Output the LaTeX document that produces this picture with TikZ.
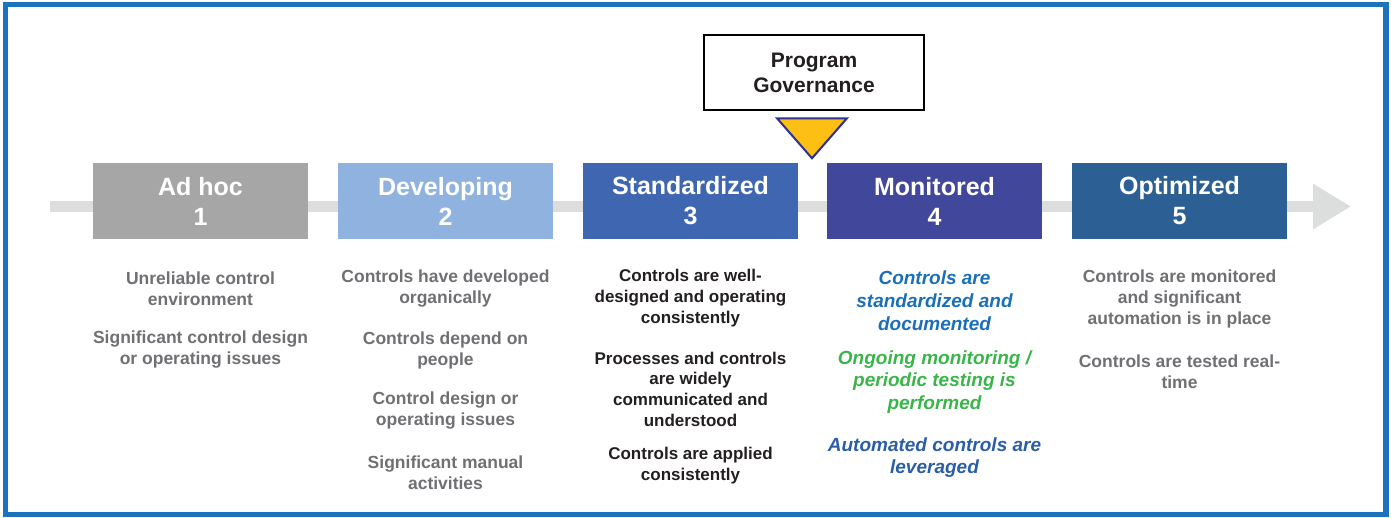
\documentclass[tikz,border=0pt]{standalone}
\usepackage{fontspec}
\setmainfont{Liberation Sans}
\usetikzlibrary{arrows.meta,calc}

\definecolor{framebl}{HTML}{1B72BE}
\definecolor{barg}{HTML}{DCDDDD}
\definecolor{lvl1}{HTML}{A6A6A6}
\definecolor{lvl2}{HTML}{8FB3DE}
\definecolor{lvl3}{HTML}{3F66B0}
\definecolor{lvl4}{HTML}{41479B}
\definecolor{lvl5}{HTML}{2C5F93}
\definecolor{txtgray}{HTML}{6F7073}
\definecolor{txtdark}{HTML}{231F20}
\definecolor{txtblue}{HTML}{1A6FB8}
\definecolor{txtgreen}{HTML}{3AB54A}
\definecolor{txtnavy}{HTML}{2B5EA6}
\definecolor{govyellow}{HTML}{FDBF14}
\definecolor{govedge}{HTML}{2E3192}

\tikzset{
  levelbox/.style={minimum width=215pt, minimum height=76pt, inner sep=0pt,
    text=white, align=center, font=\bfseries\fontsize{25}{30}\selectfont},
  desc/.style={align=center, inner sep=0pt, text=txtgray, yshift=-2pt,
    font=\bfseries\fontsize{17.5}{21}\selectfont},
  descdark/.style={desc, text=txtdark, font=\bfseries\fontsize{17}{20.7}\selectfont},
  descital/.style={desc, font=\bfseries\itshape\fontsize{19}{22.8}\selectfont},
  govbox/.style={draw=black, line width=2.5pt, fill=white, minimum width=220pt,
    minimum height=75pt, inner sep=0pt, align=center, text=txtdark,
    font=\bfseries\fontsize{21}{25}\selectfont},
}

\begin{document}
\begin{tikzpicture}[x=1pt, y=-1pt]
  \useasboundingbox (0,0) rectangle (1391,517);
  % outer frame
  \draw[framebl, line width=5.5pt] (5.5,4.5) rectangle (1386,514.5);

  % progression bar behind the levels
  \coordinate (barstart) at (50,206.5);
  \coordinate (barend) at (1351,206.5);
  \draw[barg, line width=11pt, -{Triangle[length=38pt, width=43pt]}] (barstart) -- (barend);

  % maturity levels
  \node[levelbox, fill=lvl1] (l1) at (200.5,201) {Ad hoc\\1};
  \node[levelbox, fill=lvl2] (l2) at (445.5,201) {Developing\\2};
  \node[levelbox, fill=lvl3] (l3) at (690.5,201) {Standardized\\3};
  \node[levelbox, fill=lvl4] (l4) at (934.5,201) {Monitored\\4};
  \node[levelbox, fill=lvl5] (l5) at (1179.5,201) {Optimized\\5};

  % governance marker
  \node[govbox] (gov) at (814,72.5) {Program\\Governance};
  \draw[govedge, fill=govyellow, line width=2pt, line join=miter]
    ($(gov.south)+(-37,7)$) -- ++(70,0) -- ++(-35,40) -- cycle;

  % level 1
  \node[desc] (d1a) at (200.5,286.5) {Unreliable control\\environment};
  \node[desc] (d1b) at (200.5,347.5) {Significant control design\\or operating issues};

  % level 2
  \node[desc] (d2a) at (445.5,286.5) {Controls have developed\\organically};
  \node[desc] (d2b) at (445.5,348) {Controls depend on\\people};
  \node[desc] (d2c) at (445.5,409) {Control design or\\operating issues};
  \node[desc] (d2d) at (445.5,470.5) {Significant manual\\activities};

  % level 3
  \node[descdark] (d3a) at (690.5,296) {Controls are well-\\designed and operating\\consistently};
  \node[descdark] (d3b) at (690.5,387) {Processes and controls\\are widely\\communicated and\\understood};
  \node[descdark] (d3c) at (690.5,463.5) {Controls are applied\\consistently};

  % level 4
  \node[descital, text=txtblue] (d4a) at (934.5,299) {Controls are\\standardized and\\documented};
  \node[descital, text=txtgreen] (d4b) at (934.5,380) {Ongoing monitoring /\\periodic testing is\\performed};
  \node[descital, text=txtnavy] (d4c) at (934.5,455.5) {Automated controls are\\leveraged};

  % level 5
  \node[desc] (d5a) at (1179.5,297) {Controls are monitored\\and significant\\automation is in place};
  \node[desc] (d5b) at (1179.5,369.5) {Controls are tested real-\\time};
\end{tikzpicture}
\end{document}
